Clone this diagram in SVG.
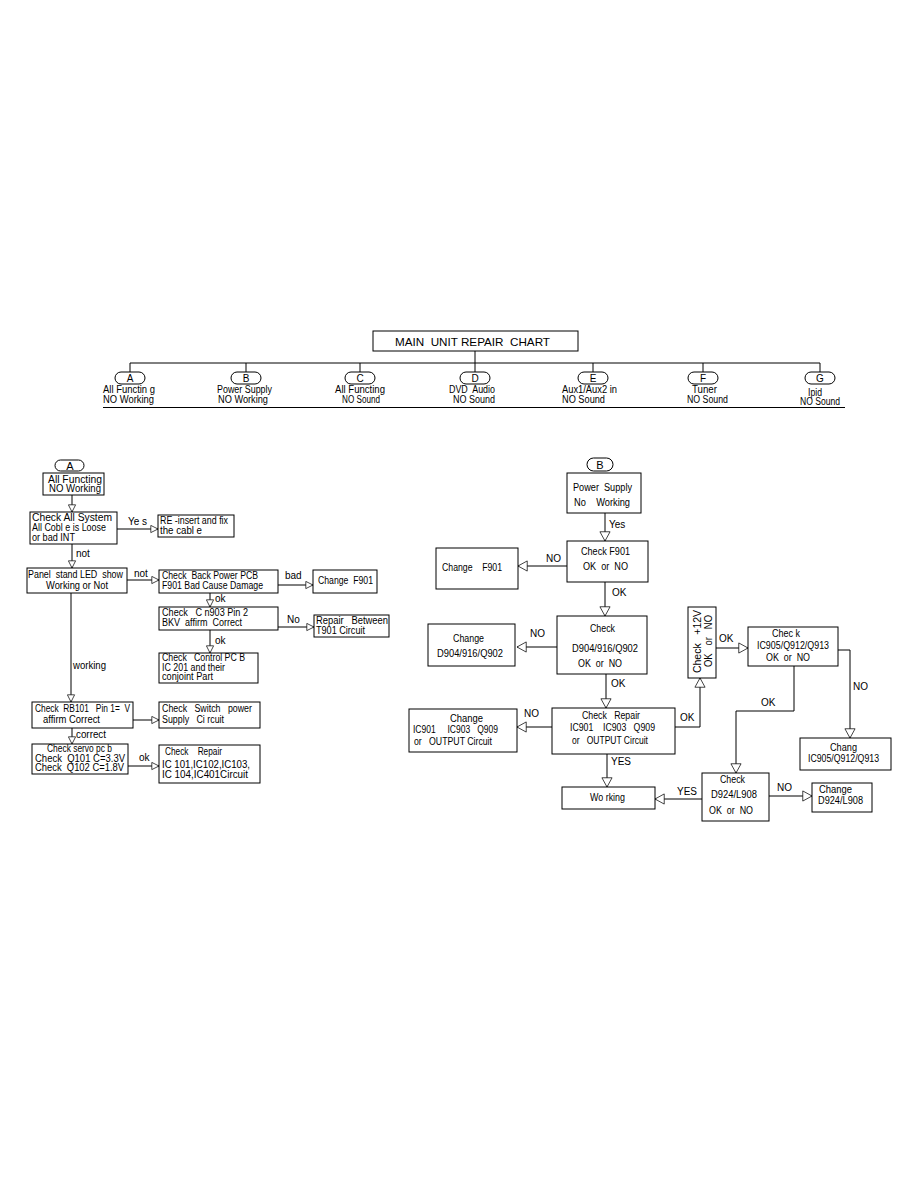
<svg xmlns="http://www.w3.org/2000/svg" width="918" height="1188" viewBox="0 0 918 1188" xml:space="preserve">
<style>
text{font-family:"Liberation Sans",Arial,sans-serif;font-size:10px;fill:#000;white-space:pre}
.c{text-anchor:middle}
.t{font-size:11px}
.box{fill:#fff;stroke:#000;stroke-width:1}
.ln{fill:none;stroke:#000;stroke-width:1}
.a{marker-end:url(#ma)}
.b{marker-end:url(#mb)}
</style>
<defs>
<marker id="ma" markerUnits="userSpaceOnUse" markerWidth="9" markerHeight="9" refX="8" refY="4" orient="auto" viewBox="-1 -1 10 10"><path d="M0,0 L8,4 L0,8 Z" fill="#fff" stroke="#000" stroke-width="0.8"/></marker>
<marker id="mb" markerUnits="userSpaceOnUse" markerWidth="12" markerHeight="12" refX="10" refY="5.5" orient="auto" viewBox="-1 -1 12 13"><path d="M0,0 L10,5.5 L0,11 Z" fill="#fff" stroke="#000" stroke-width="0.8"/></marker>
</defs>
<rect width="918" height="1188" fill="#fff"/>
<g id="title"><rect class="box" x="373" y="331" width="205" height="20"/><text class="t" x="395" y="345.5" textLength="155" lengthAdjust="spacingAndGlyphs">MAIN  UNIT REPAIR  CHART</text></g>
<g id="top-connectors"><path class="ln" d="M475,351 V363 M130,363 H820 M130,363 V372 M246,363 V372 M360,363 V372 M475,363 V372 M593,363 V372 M703,363 V372 M820,363 V372 M103,407.5 H845"/></g>
<g id="catA"><rect class="box" x="115" y="372" width="30" height="12" rx="6"/><text class="c" x="130" y="381.5">A</text><text x="103" y="392.5" textLength="52" lengthAdjust="spacingAndGlyphs">All Functin g</text><text x="103" y="402.5" textLength="51" lengthAdjust="spacingAndGlyphs">NO Working</text></g>
<g id="catB"><rect class="box" x="231" y="372" width="30" height="12" rx="6"/><text class="c" x="246" y="381.5">B</text><text x="217" y="392.5" textLength="55" lengthAdjust="spacingAndGlyphs">Power Supply</text><text x="218" y="402.5" textLength="50" lengthAdjust="spacingAndGlyphs">NO Working</text></g>
<g id="catC"><rect class="box" x="345" y="372" width="30" height="12" rx="6"/><text class="c" x="360" y="381.5">C</text><text x="335" y="392.5" textLength="50" lengthAdjust="spacingAndGlyphs">All Functing</text><text x="342" y="402.5" textLength="38" lengthAdjust="spacingAndGlyphs">NO Sound</text></g>
<g id="catD"><rect class="box" x="460" y="372" width="30" height="12" rx="6"/><text class="c" x="475" y="381.5">D</text><text x="449" y="392.5" textLength="46" lengthAdjust="spacingAndGlyphs">DVD  Audio</text><text x="453" y="402.5" textLength="42" lengthAdjust="spacingAndGlyphs">NO Sound</text></g>
<g id="catE"><rect class="box" x="578" y="372" width="30" height="12" rx="6"/><text class="c" x="593" y="381.5">E</text><text x="562" y="392.5" textLength="55" lengthAdjust="spacingAndGlyphs">Aux1/Aux2 in</text><text x="562" y="402.5" textLength="43" lengthAdjust="spacingAndGlyphs">NO Sound</text></g>
<g id="catF"><rect class="box" x="688" y="372" width="30" height="12" rx="6"/><text class="c" x="703" y="381.5">F</text><text x="692" y="392.5" textLength="25" lengthAdjust="spacingAndGlyphs">Tuner</text><text x="687" y="402.5" textLength="41" lengthAdjust="spacingAndGlyphs">NO Sound</text></g>
<g id="catG"><rect class="box" x="805" y="372" width="30" height="12" rx="6"/><text class="c" x="820" y="381.5">G</text><text x="808" y="395.5" textLength="14" lengthAdjust="spacingAndGlyphs">Ipid</text><text x="800" y="405" textLength="40" lengthAdjust="spacingAndGlyphs">NO Sound</text></g>

<g id="connectors-A">
<path class="ln a" d="M72,495 V512"/>
<path class="ln a" d="M117,529 H158"/>
<path class="ln a" d="M72,544 V568"/>
<path class="ln a" d="M127,580 H159"/>
<path class="ln a" d="M278,585 H313"/>
<path class="ln a" d="M210,593 V607"/>
<path class="ln a" d="M278,627 H314"/>
<path class="ln a" d="M210,630 V653"/>
<path class="ln a" d="M71,593 V702"/>
<path class="ln a" d="M133,720 H159"/>
<path class="ln a" d="M72,728 V744"/>
<path class="ln a" d="M128,766 H159"/>
<text x="128" y="525">Ye s</text>
<text x="76" y="557">not</text>
<text x="134" y="577">not</text>
<text x="285" y="579">bad</text>
<text x="215" y="602">ok</text>
<text x="287" y="623">No</text>
<text x="215" y="644">ok</text>
<text x="73" y="669" textLength="33" lengthAdjust="spacingAndGlyphs">working</text>
<text x="76" y="738" textLength="30" lengthAdjust="spacingAndGlyphs">correct</text>
<text x="139" y="761">ok</text>
</g>

<g id="A-start"><rect class="box" x="55" y="460" width="29" height="11" rx="5.5"/><text class="c t" x="70" y="469.5">A</text></g>
<g id="A1"><rect class="box" x="43" y="473" width="61" height="22"/><text x="48" y="483" textLength="54" lengthAdjust="spacingAndGlyphs">All Functing</text><text x="49" y="492" textLength="52" lengthAdjust="spacingAndGlyphs">NO Working</text></g>
<g id="A2"><rect class="box" x="30" y="512" width="87" height="32"/><text x="32" y="521" textLength="80" lengthAdjust="spacingAndGlyphs">Check All System</text><text x="32" y="531" textLength="74" lengthAdjust="spacingAndGlyphs">All Cobl e is Loose</text><text x="32" y="541" textLength="43" lengthAdjust="spacingAndGlyphs">or bad INT</text></g>
<g id="A3"><rect class="box" x="158" y="515" width="76" height="22"/><text x="160" y="524" textLength="68" lengthAdjust="spacingAndGlyphs">RE -insert and fix</text><text x="160" y="534" textLength="42" lengthAdjust="spacingAndGlyphs">the cabl e</text></g>
<g id="A4"><rect class="box" x="27" y="568" width="100" height="25"/><text x="28" y="578" textLength="95" lengthAdjust="spacingAndGlyphs">Panel  stand LED  show</text><text x="46" y="589" textLength="62" lengthAdjust="spacingAndGlyphs">Working or Not</text></g>
<g id="A5"><rect class="box" x="159" y="570" width="119" height="23"/><text x="162" y="579" textLength="96" lengthAdjust="spacingAndGlyphs">Check  Back Power PCB</text><text x="162" y="589" textLength="101" lengthAdjust="spacingAndGlyphs">F901 Bad Cause Damage</text></g>
<g id="A6"><rect class="box" x="313" y="570" width="64" height="23"/><text x="318" y="584" textLength="55" lengthAdjust="spacingAndGlyphs">Change  F901</text></g>
<g id="A7"><rect class="box" x="159" y="607" width="119" height="23"/><text x="162" y="615.5" textLength="86" lengthAdjust="spacingAndGlyphs">Check   C n903 Pin 2</text><text x="162" y="626" textLength="80" lengthAdjust="spacingAndGlyphs">BKV  affirm  Correct</text></g>
<g id="A8"><rect class="box" x="314" y="615" width="75" height="22"/><text x="316" y="624" textLength="72" lengthAdjust="spacingAndGlyphs">Repair   Between</text><text x="316" y="634" textLength="49" lengthAdjust="spacingAndGlyphs">T901 Circuit</text></g>
<g id="A9"><rect class="box" x="159" y="653" width="99" height="30"/><text x="162" y="661" textLength="83" lengthAdjust="spacingAndGlyphs">Check   Control PC B</text><text x="162" y="671" textLength="63" lengthAdjust="spacingAndGlyphs">IC 201 and their</text><text x="162" y="680" textLength="51" lengthAdjust="spacingAndGlyphs">conjoint Part</text></g>
<g id="A10"><rect class="box" x="32" y="702" width="101" height="26"/><text x="35" y="712" textLength="95" lengthAdjust="spacingAndGlyphs">Check  RB101   Pin 1=  V</text><text x="43" y="723" textLength="57" lengthAdjust="spacingAndGlyphs">affirm Correct</text></g>
<g id="A11"><rect class="box" x="159" y="702" width="101" height="26"/><text x="162" y="712" textLength="90" lengthAdjust="spacingAndGlyphs">Check   Switch   power</text><text x="162" y="723" textLength="62" lengthAdjust="spacingAndGlyphs">Supply   Ci rcuit</text></g>
<g id="A12"><rect class="box" x="32" y="744" width="96" height="30"/><text x="47" y="752" textLength="65" lengthAdjust="spacingAndGlyphs">Check servo pc b</text><text x="35" y="762" textLength="90" lengthAdjust="spacingAndGlyphs">Check  Q101 C=3.3V</text><text x="35" y="771" textLength="89" lengthAdjust="spacingAndGlyphs">Check  Q102 C=1.8V</text></g>
<g id="A13"><rect class="box" x="159" y="745" width="101" height="38"/><text x="165" y="755" textLength="57" lengthAdjust="spacingAndGlyphs">Check    Repair</text><text x="162" y="768" textLength="88" lengthAdjust="spacingAndGlyphs">IC 101,IC102,IC103,</text><text x="162" y="778" textLength="86" lengthAdjust="spacingAndGlyphs">IC 104,IC401Circuit</text></g>

<g id="connectors-B">
<path class="ln b" d="M605,513 V541"/>
<path class="ln b" d="M567,566 H518"/>
<path class="ln b" d="M605,582 V616"/>
<path class="ln b" d="M557,647 H517"/>
<path class="ln b" d="M606,674 V708"/>
<path class="ln b" d="M552,727 H517"/>
<path class="ln b" d="M607,754 V787"/>
<path class="ln b" d="M675,727 H700 V678"/>
<path class="ln b" d="M716,648 H748"/>
<path class="ln b" d="M838,650 H850 V738"/>
<path class="ln b" d="M794,666 V711 H736 V773"/>
<path class="ln b" d="M702,799 H655"/>
<path class="ln b" d="M769,796 H812"/>
<text x="609" y="528">Yes</text>
<text x="546" y="562">NO</text>
<text x="612" y="596">OK</text>
<text x="530" y="637">NO</text>
<text x="611" y="687">OK</text>
<text x="524" y="717">NO</text>
<text x="611" y="765">YES</text>
<text x="680" y="721">OK</text>
<text x="719" y="642">OK</text>
<text x="853" y="690">NO</text>
<text x="761" y="706">OK</text>
<text x="677" y="795">YES</text>
<text x="777" y="791">NO</text>
</g>

<g id="B-start"><rect class="box" x="587" y="458" width="26" height="13" rx="6.5"/><text class="c t" x="600" y="469">B</text></g>
<g id="B1"><rect class="box" x="567" y="473" width="74" height="40"/><text x="573" y="491" textLength="59" lengthAdjust="spacingAndGlyphs">Power  Supply</text><text x="574" y="506" textLength="56" lengthAdjust="spacingAndGlyphs">No    Working</text></g>
<g id="B2"><rect class="box" x="567" y="541" width="81" height="41"/><text x="581" y="555" textLength="49" lengthAdjust="spacingAndGlyphs">Check F901</text><text x="583" y="570" textLength="45" lengthAdjust="spacingAndGlyphs">OK  or  NO</text></g>
<g id="B3"><rect class="box" x="436" y="548" width="82" height="41"/><text x="442" y="571" textLength="60" lengthAdjust="spacingAndGlyphs">Change    F901</text></g>
<g id="B4"><rect class="box" x="557" y="616" width="90" height="58"/><text x="590" y="632" textLength="25" lengthAdjust="spacingAndGlyphs">Check</text><text x="572" y="652" textLength="66" lengthAdjust="spacingAndGlyphs">D904/916/Q902</text><text x="578" y="667" textLength="44" lengthAdjust="spacingAndGlyphs">OK  or  NO</text></g>
<g id="B5"><rect class="box" x="428" y="624" width="87" height="42"/><text x="453" y="642" textLength="31" lengthAdjust="spacingAndGlyphs">Change</text><text x="437" y="657" textLength="66" lengthAdjust="spacingAndGlyphs">D904/916/Q902</text></g>
<g id="B6"><rect class="box" x="552" y="708" width="123" height="46"/><text x="582" y="719" textLength="58" lengthAdjust="spacingAndGlyphs">Check   Repair</text><text x="570" y="731" textLength="85" lengthAdjust="spacingAndGlyphs">IC901    IC903   Q909</text><text x="572" y="744" textLength="76" lengthAdjust="spacingAndGlyphs">or   OUTPUT Circuit</text></g>
<g id="B7"><rect class="box" x="409" y="709" width="108" height="43"/><text x="450" y="722" textLength="33" lengthAdjust="spacingAndGlyphs">Change</text><text x="413" y="733" textLength="85" lengthAdjust="spacingAndGlyphs">IC901     IC903   Q909</text><text x="414" y="745" textLength="78" lengthAdjust="spacingAndGlyphs">or   OUTPUT Circuit</text></g>
<g id="B8"><rect class="box" x="562" y="787" width="93" height="22"/><text x="590" y="801" textLength="35" lengthAdjust="spacingAndGlyphs">Wo rking</text></g>
<g id="B9"><rect class="box" x="688" y="607" width="28" height="71"/><text x="701" y="673" transform="rotate(-90 701 673)" textLength="63" lengthAdjust="spacingAndGlyphs">Check   +12V</text><text x="712" y="667" transform="rotate(-90 712 667)" textLength="52" lengthAdjust="spacingAndGlyphs">OK   or   NO</text></g>
<g id="B10"><rect class="box" x="748" y="627" width="90" height="39"/><text x="772" y="637" textLength="28" lengthAdjust="spacingAndGlyphs">Chec k</text><text x="757" y="649" textLength="72" lengthAdjust="spacingAndGlyphs">IC905/Q912/Q913</text><text x="766" y="661" textLength="44" lengthAdjust="spacingAndGlyphs">OK  or  NO</text></g>
<g id="B11"><rect class="box" x="800" y="738" width="91" height="32"/><text x="830" y="751" textLength="27" lengthAdjust="spacingAndGlyphs">Chang</text><text x="808" y="762" textLength="71" lengthAdjust="spacingAndGlyphs">IC905/Q912/Q913</text></g>
<g id="B12"><rect class="box" x="702" y="773" width="67" height="48"/><text x="720" y="782.5" textLength="25" lengthAdjust="spacingAndGlyphs">Check</text><text x="711" y="798" textLength="46" lengthAdjust="spacingAndGlyphs">D924/L908</text><text x="709" y="814" textLength="44" lengthAdjust="spacingAndGlyphs">OK  or  NO</text></g>
<g id="B13"><rect class="box" x="812" y="783" width="60" height="29"/><text x="819" y="793" textLength="33" lengthAdjust="spacingAndGlyphs">Change</text><text x="818" y="804" textLength="45" lengthAdjust="spacingAndGlyphs">D924/L908</text></g>
</svg>
